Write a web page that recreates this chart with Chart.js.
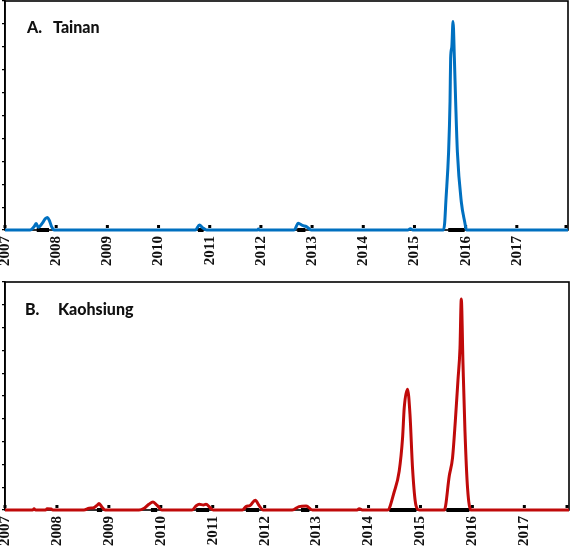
<!DOCTYPE html>
<html>
<head>
<meta charset="utf-8">
<script src="https://cdn.jsdelivr.net/npm/chart.js@4.4.1/dist/chart.umd.min.js"></script>
<style>
  html, body { margin: 0; padding: 0; background: #fff; }
  #wrap { position: relative; width: 573px; height: 552px; overflow: hidden; }
  .panel { position: absolute; left: 0; width: 573px; }
  #p1 { top: 0; height: 270px; }
  #p2 { top: 270px; height: 282px; }
  .lbl { position: absolute; font-family: Lato, "Open Sans", sans-serif; font-weight: 900; font-size: 16px; line-height: 16px; color: #111; white-space: nowrap; }
</style>
</head>
<body>
<div id="wrap">
  <div class="panel" id="p1"><canvas id="c1"></canvas></div>
  <div class="panel" id="p2"><canvas id="c2"></canvas></div>
  <div class="lbl" style="left:27px; top:19px;">A.</div>
  <div class="lbl" style="left:53px; top:19px;">Tainan</div>
  <div class="lbl" style="left:25px; top:301px;">B.</div>
  <div class="lbl" style="left:58px; top:301px;">Kaohsiung</div>
</div>
<script>
// ---- Data (decimal year, weekly cases index) ----
const yearTicks = [2007, 2008, 2009, 2010, 2011, 2012, 2013, 2014, 2015, 2016, 2017, 2018];
const yearLabels = ['2007', '2008', '2009', '2010', '2011', '2012', '2013', '2014', '2015', '2016', '2017'];

const tainanYears = [2007.0, 2007.49, 2007.57, 2007.61, 2007.65, 2007.73, 2007.79, 2007.83, 2007.87, 2007.91, 2007.96,
  2010.72, 2010.80, 2010.86, 2010.94,
  2011.93, 2011.95, 2011.97,
  2012.65, 2012.73, 2012.81, 2012.89, 2012.98,
  2014.87, 2014.92, 2014.97,
  2015.565, 2015.59, 2015.615, 2015.667, 2015.695, 2015.707, 2015.730, 2015.754, 2015.780, 2015.805, 2015.839, 2015.917, 2015.982, 2016.016,
  2018.0];
const tainanCases = [0, 0, 0.15, 0.28, 0.12, 0.3, 0.5, 0.55, 0.4, 0.15, 0,
  0, 0.22, 0.1, 0,
  0, 0.04, 0,
  0, 0.3, 0.2, 0.15, 0,
  0, 0.06, 0,
  0, 0.3, 1.3, 3.4, 5.6, 7.5, 8.0, 9.1, 7.5, 5.6, 3.4, 1.2, 0.35, 0,
  0];
const tainanBarStart = [2007.62, 2010.77, 2012.71, 2015.66];
const tainanBarEnd   = [2007.86, 2010.88, 2012.87, 2015.98];

const kaohsiungYears = [2007.0, 2007.53, 2007.56, 2007.59, 2007.78, 2007.81, 2007.89, 2007.92,
  2008.52, 2008.62, 2008.71, 2008.77, 2008.81, 2008.87, 2008.93,
  2009.58, 2009.68, 2009.77, 2009.85, 2009.93, 2010.02,
  2010.60, 2010.68, 2010.74, 2010.82, 2010.87, 2010.95, 2011.01,
  2011.57, 2011.64, 2011.72, 2011.82, 2011.89, 2011.97,
  2012.53, 2012.66, 2012.80, 2012.92,
  2013.78, 2013.82, 2013.88,
  2014.366, 2014.495, 2014.59, 2014.655, 2014.688, 2014.751, 2014.798, 2014.848, 2014.913, 2014.977,
  2015.459, 2015.555, 2015.618, 2015.671, 2015.722, 2015.761, 2015.786, 2015.819, 2015.857, 2015.907, 2015.973,
  2017.86];
const kaohsiungCases = [0, 0, 0.05, 0, 0, 0.05, 0.04, 0,
  0, 0.08, 0.1, 0.2, 0.28, 0.12, 0,
  0, 0.08, 0.25, 0.35, 0.2, 0,
  0, 0.18, 0.25, 0.22, 0.25, 0.1, 0,
  0, 0.15, 0.2, 0.43, 0.2, 0,
  0, 0.15, 0.18, 0,
  0, 0.06, 0,
  0, 0.8, 1.7, 3.15, 4.5, 5.3, 4.2, 1.8, 0.2, 0,
  0, 1.5, 2.3, 3.9, 5.7, 7.1, 9.25, 6.4, 3.45, 0.95, 0,
  0];
const kaohsiungBarStart = [2008.77, 2009.81, 2010.68, 2011.64, 2012.70, 2014.40, 2015.50];
const kaohsiungBarEnd   = [2008.87, 2009.93, 2010.93, 2011.89, 2012.86, 2014.92, 2015.94];

// ---- helpers ----
function pts(xs, ys) { return xs.map((x, i) => ({ x: x, y: ys[i] })); }
function bars(s, e) {
  const out = [];
  s.forEach((v, i) => { out.push({ x: v, y: 0 }, { x: e[i], y: 0 }, { x: e[i], y: null }); });
  return out;
}

const framePlugin = {
  id: 'frame',
  beforeDatasetsDraw(chart) {
    const ctx = chart.ctx, a = chart.chartArea, xs = chart.scales.x;
    ctx.save();
    ctx.strokeStyle = '#000';
    ctx.lineWidth = 1.6;
    ctx.strokeRect(a.left, a.top, a.right - a.left, a.bottom - a.top);
    ctx.fillStyle = '#000';
    yearTicks.forEach(v => {
      if (v < xs.min || v > xs.max + 0.2) return;
      const px = Math.min(xs.getPixelForValue(v), a.right - 2);
      ctx.fillRect(px - 1.5, a.bottom - 5, 3, 3);
    });
    ctx.restore();
  },
  afterDraw(chart) {
    const ctx = chart.ctx, a = chart.chartArea, xs = chart.scales.x;
    ctx.save();
    ctx.fillStyle = '#111';
    ctx.font = 'bold 15px "Liberation Serif", "DejaVu Serif", serif';
    ctx.textAlign = 'right';
    ctx.textBaseline = 'middle';
    yearLabels.forEach((t, i) => {
      const px = xs.getPixelForValue(yearTicks[i]);
      ctx.save();
      ctx.translate(px, a.bottom + 6);
      ctx.rotate(-Math.PI / 2);
      ctx.fillText(t, 0, 0);
      ctx.restore();
    });
    ctx.restore();
  }
};

function makeChart(id, xs, ys, bs, be, color, xmax, pad) {
  return new Chart(document.getElementById(id), {
    type: 'line',
    data: {
      datasets: [
        { data: pts(xs, ys), borderColor: color, borderWidth: 3, pointRadius: 0,
          cubicInterpolationMode: 'monotone', order: 1, clip: 3 },
        { data: bars(bs, be), borderColor: '#000', borderWidth: 4, pointRadius: 0,
          spanGaps: false, order: 2, clip: 3 }
      ]
    },
    options: {
      responsive: true, maintainAspectRatio: false, animation: false,
      layout: { padding: pad },
      plugins: { legend: { display: false }, tooltip: { enabled: false } },
      scales: {
        x: {
          type: 'linear', min: 2007, max: xmax,
          ticks: { display: false, stepSize: 1 },
          grid: { display: false },
          border: { display: false }
        },
        y: {
          min: 0, max: 10,
          ticks: { display: false, stepSize: 1 },
          grid: { drawOnChartArea: false, tickLength: 3, color: '#000', lineWidth: 1.2 },
          border: { display: true, color: '#000', width: 1.6 }
        }
      }
    },
    plugins: [framePlugin]
  });
}

makeChart('c1', tainanYears, tainanCases, tainanBarStart, tainanBarEnd, 'rgb(0,112,192)', 2018,
  { top: 1, right: 5, left: 2, bottom: 32 });
makeChart('c2', kaohsiungYears, kaohsiungCases, kaohsiungBarStart, kaohsiungBarEnd, 'rgb(192,10,10)', 2017.86,
  { top: 12, right: 4, left: 2, bottom: 34 });
</script>
</body>
</html>
